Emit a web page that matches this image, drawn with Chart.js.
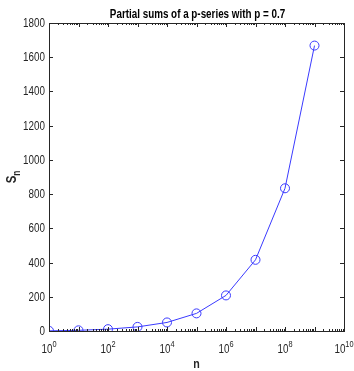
<!DOCTYPE html>
<html>
<head>
<meta charset="utf-8">
<script src="https://cdn.jsdelivr.net/npm/chart.js@4"></script>
<style>
  html, body { margin: 0; padding: 0; background: #fff; }
  #wrap { width: 354px; height: 371px; }
</style>
</head>
<body>
<div id="wrap"><canvas id="chart" width="354" height="371"></canvas></div>
<script>
// n values (powers of ten) and partial sums
const nValues = [1, 1e1, 1e2, 1e3, 1e4, 1e5, 1e6, 1e7, 1e8, 1e9];
const sums = [1, 4, 10.7, 24, 50, 103, 208, 416, 834, 1668];
const xTickExps = [0, 2, 4, 6, 8, 10];
const yTicks = [0, 200, 400, 600, 800, 1000, 1200, 1400, 1600, 1800];
const titleText = 'Partial sums of a p-series with p = 0.7';

const axisColor = '#262626';
const lineColor = '#3a3aff';
const fam = '"Liberation Sans", Arial, sans-serif';
const squeeze = 0.82; // narrow look of the original font

// text squeezed horizontally, anchored at x
function narrowText(c, text, x, y, font, align) {
  c.save();
  c.font = font;
  c.textAlign = align;
  c.translate(x, y);
  c.scale(squeeze, 1);
  c.fillText(text, 0, 0);
  c.restore();
}

function narrowWidth(c, text, font) {
  c.save();
  c.font = font;
  const w = c.measureText(text).width * squeeze;
  c.restore();
  return w;
}

// frame, inward ticks, labels, title and axis titles
const framePlugin = {
  id: 'frame',
  afterDraw(chart) {
    const c = chart.ctx;
    const a = chart.chartArea;
    const xs = chart.scales.x;
    const ys = chart.scales.y;
    c.save();
    c.strokeStyle = axisColor;
    c.lineWidth = 1;
    c.strokeRect(Math.round(a.left) + 0.5, Math.round(a.top) + 0.5,
      Math.round(a.right - a.left), Math.round(a.bottom - a.top));

    c.beginPath();
    // x ticks: majors per decade, minors 2..9
    for (let k = 0; k <= 10; k++) {
      const base = Math.pow(10, k);
      const px = Math.round(xs.getPixelForValue(base)) + 0.5;
      c.moveTo(px, a.bottom); c.lineTo(px, a.bottom - 4);
      c.moveTo(px, a.top); c.lineTo(px, a.top + 4);
      if (k < 10) {
        for (let m = 2; m <= 9; m++) {
          const mx = Math.round(xs.getPixelForValue(base * m)) + 0.5;
          c.moveTo(mx, a.bottom); c.lineTo(mx, a.bottom - 2);
          c.moveTo(mx, a.top); c.lineTo(mx, a.top + 2);
        }
      }
    }
    // y ticks on both sides
    yTicks.forEach(v => {
      const py = Math.round(ys.getPixelForValue(v)) + 0.5;
      c.moveTo(a.left, py); c.lineTo(a.left + 4, py);
      c.moveTo(a.right, py); c.lineTo(a.right - 4, py);
    });
    c.stroke();

    c.fillStyle = axisColor;
    c.textBaseline = 'alphabetic';

    // y tick labels
    yTicks.forEach(v => {
      const py = ys.getPixelForValue(v);
      narrowText(c, String(v), a.left - 4, py + 4, '12px ' + fam, 'right');
    });

    // x tick labels 10^k
    xTickExps.forEach(e => {
      const px = xs.getPixelForValue(Math.pow(10, e));
      const w1 = narrowWidth(c, '10', '12px ' + fam);
      const w2 = narrowWidth(c, String(e), '9px ' + fam);
      const x0 = px - (w1 + w2) / 2;
      narrowText(c, '10', x0, a.bottom + 22, '12px ' + fam, 'left');
      narrowText(c, String(e), x0 + w1, a.bottom + 16, '9px ' + fam, 'left');
    });

    // title
    c.fillStyle = '#000';
    narrowText(c, titleText, (a.left + a.right) / 2 + 1, 18, 'bold 12px ' + fam, 'center');

    // x axis title
    c.fillStyle = axisColor;
    narrowText(c, 'n', (a.left + a.right) / 2, a.bottom + 37, 'bold 13px ' + fam, 'center');

    // y axis title S_n
    c.translate(16, (a.top + a.bottom) / 2);
    c.rotate(-Math.PI / 2);
    const sw = narrowWidth(c, 'S', 'bold 14px ' + fam);
    const nw = narrowWidth(c, 'n', 'bold 10px ' + fam);
    narrowText(c, 'S', -(sw + nw) / 2, 0, 'bold 14px ' + fam, 'left');
    narrowText(c, 'n', -(sw + nw) / 2 + sw, 4, 'bold 10px ' + fam, 'left');
    c.restore();
  }
};

const ctx = document.getElementById('chart').getContext('2d');
new Chart(ctx, {
  type: 'line',
  data: {
    datasets: [{
      data: nValues.map((n, i) => ({ x: n, y: sums[i] })),
      borderColor: lineColor,
      borderWidth: 1,
      pointStyle: 'circle',
      pointRadius: 4.5,
      pointBorderWidth: 1,
      pointBorderColor: lineColor,
      pointBackgroundColor: 'rgba(0,0,0,0)',
      tension: 0,
      fill: false
    }]
  },
  options: {
    responsive: false,
    animation: false,
    events: [],
    layout: { padding: { top: 23, right: 10, left: 0, bottom: 0 } },
    plugins: {
      legend: { display: false },
      tooltip: { enabled: false },
      title: { display: false }
    },
    scales: {
      x: {
        type: 'logarithmic',
        min: 1,
        max: 1e10,
        grid: { display: false, drawTicks: false },
        border: { display: false },
        ticks: { display: false },
        afterFit(scale) { scale.height = 40; }
      },
      y: {
        min: 0,
        max: 1800,
        grid: { display: false, drawTicks: false },
        border: { display: false },
        afterBuildTicks(scale) { scale.ticks = yTicks.map(v => ({ value: v })); },
        ticks: { display: false },
        afterFit(scale) { scale.width = 49; }
      }
    }
  },
  plugins: [framePlugin]
});
</script>
</body>
</html>
